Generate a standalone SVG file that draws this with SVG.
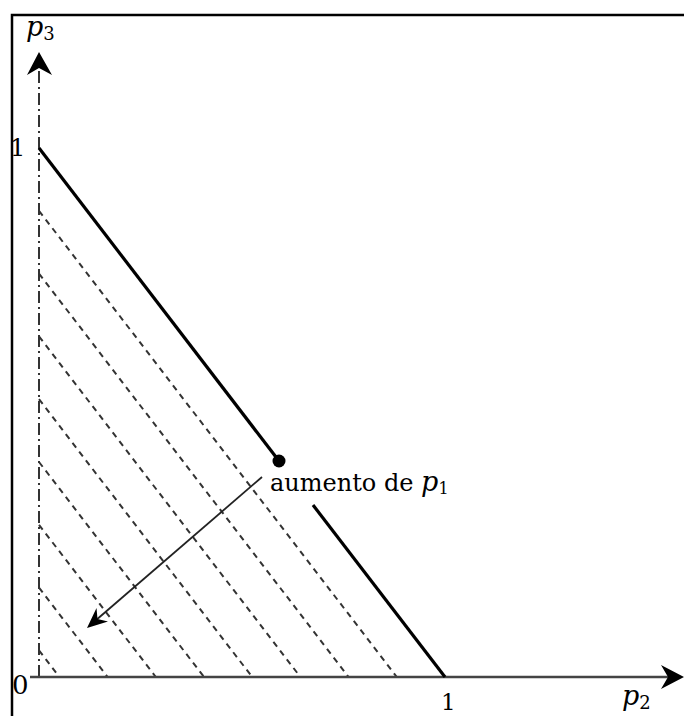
<svg xmlns="http://www.w3.org/2000/svg" width="684" height="716" viewBox="0 0 684 716">
<style>
.hatch{stroke:#333;stroke-width:2;stroke-dasharray:6,5;fill:none}
.main{stroke:#000;stroke-width:3.2;fill:none}
.lbl{font-family:"DejaVu Serif","Liberation Serif",serif;fill:#000}
.it{font-style:italic}
</style>
<rect width="684" height="716" fill="#fff"/>
<path d="M12,716 V15 H684" stroke="#000" stroke-width="2.5" fill="none"/>
<g id="hatching">
<line class="hatch" x1="39" y1="210.8" x2="396.8" y2="677"/>
<line class="hatch" x1="39" y1="273.6" x2="348.6" y2="677"/>
<line class="hatch" x1="39" y1="336.4" x2="300.4" y2="677"/>
<line class="hatch" x1="39" y1="399.2" x2="252.2" y2="677"/>
<line class="hatch" x1="39" y1="462" x2="204" y2="677"/>
<line class="hatch" x1="39" y1="524.8" x2="155.8" y2="677"/>
<line class="hatch" x1="39" y1="587.6" x2="107.6" y2="677"/>
<line class="hatch" x1="39" y1="650.4" x2="59.4" y2="677"/>
</g>
<g id="axes">
<line x1="39" y1="677" x2="39" y2="66" stroke="#333" stroke-width="2" stroke-dasharray="12,4,2,4"/>
<polygon points="39,52 52,75 39,68 27,75" fill="#000"/>
<line x1="30" y1="677" x2="670" y2="677" stroke="#444" stroke-width="2.5"/>
<polygon points="684,677 661,665 668,677 661,689" fill="#000"/>
</g>
<g id="budget-line">
<line class="main" x1="39" y1="148" x2="279" y2="461"/>
<line class="main" x1="313" y1="505" x2="445" y2="677"/>
<circle cx="279" cy="461" r="6.5" fill="#000"/>
</g>
<g id="arrow">
<line x1="262" y1="477" x2="95" y2="621" stroke="#222" stroke-width="1.8"/>
<polygon points="87,628 96.5,608 97.5,619 108,621.5" fill="#000"/>
</g>
<g id="labels">
<text class="lbl" x="270" y="491" font-size="24">aumento de <tspan class="it" font-size="27">p</tspan><tspan font-size="16" dy="3">1</tspan></text>
<text class="lbl it" x="26" y="36" font-size="27">p<tspan font-size="18" dy="4" font-style="normal">3</tspan></text>
<text class="lbl" x="10" y="156" font-size="24">1</text>
<text class="lbl" x="12" y="694" font-size="26">0</text>
<text class="lbl" x="441" y="710" font-size="23">1</text>
<text class="lbl it" x="622" y="705" font-size="27">p<tspan font-size="18" dy="4" font-style="normal">2</tspan></text>
</g>
</svg>
